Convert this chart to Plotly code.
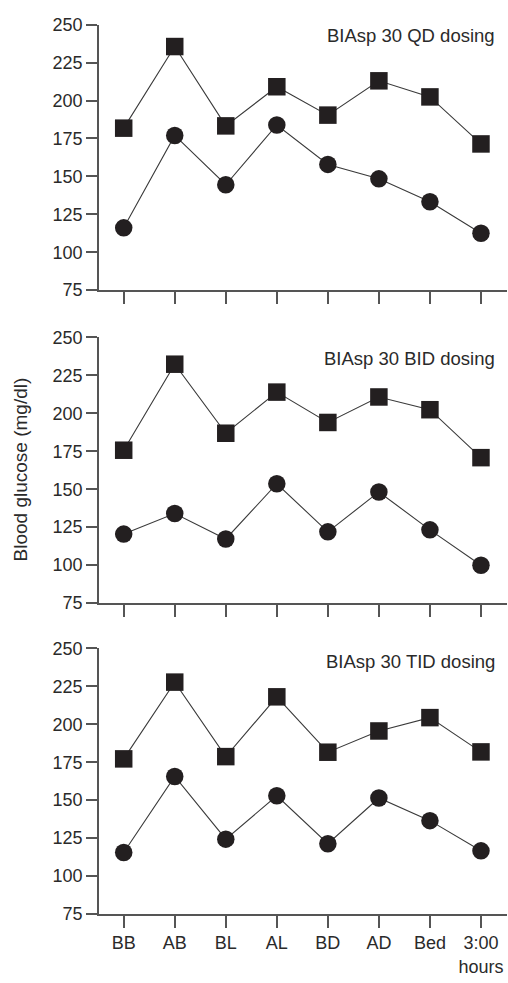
import plotly.graph_objects as go

categories = ["BB", "AB", "BL", "AL", "BD", "AD", "Bed", "3:00"]
tick_labels = ["BB", "AB", "BL", "AL", "BD", "AD", "Bed", "3:00<br>hours"]
panel_titles = ["BIAsp 30 QD dosing", "BIAsp 30 BID dosing", "BIAsp 30 TID dosing"]

qd_squares = [181.8, 235.6, 183.3, 209.1, 190.4, 213.0, 202.4, 171.4]
qd_circles = [116.1, 177.0, 144.5, 183.9, 157.9, 148.4, 133.3, 112.5]
bid_squares = [175.7, 232.4, 186.9, 214.0, 194.0, 210.8, 202.4, 170.8]
bid_circles = [120.4, 134.0, 117.2, 153.6, 121.9, 148.2, 123.2, 99.9]
tid_squares = [177.2, 227.8, 178.7, 218.1, 181.6, 195.6, 204.4, 181.8]
tid_circles = [115.5, 165.6, 124.3, 152.9, 121.3, 151.4, 136.5, 116.6]

y_ticks = [75, 100, 125, 150, 175, 200, 225, 250]

W, H = 508, 983
panels_px = [(15, 286), (334.3, 605.3), (651.7, 922.7)]  # (top, bottom) px
title_y_px = [26, 355.7, 665]
series = [(qd_squares, qd_circles), (bid_squares, bid_circles), (tid_squares, tid_circles)]

FONT = "Liberation Sans, Arial, Helvetica, sans-serif"
TXT = "#2a2a2a"
MK = "#231f20"
LN = "#3a3a3a"
AX = "#555555"
FS = 18

fig = go.Figure()
layout = dict(
    width=W, height=H, margin=dict(l=0, r=0, t=0, b=0),
    paper_bgcolor="white", plot_bgcolor="white", showlegend=False,
    font=dict(family=FONT, size=FS, color=TXT),
)
annotations = []
for i, ((sq, ci), (top, bot)) in enumerate(zip(series, panels_px)):
    n = "" if i == 0 else str(i + 1)
    xa, ya = "x" + n, "y" + n
    for vals, sym in ((sq, "square"), (ci, "circle")):
        fig.add_trace(go.Scatter(
            x=categories, y=vals, xaxis=xa, yaxis=ya, mode="lines+markers",
            line=dict(color=LN, width=1.1),
            marker=dict(symbol=sym, size=17.5, color=MK, line=dict(width=0)),
            cliponaxis=False,
        ))
    layout["xaxis" + n] = dict(
        domain=[99 / W, 507 / W], anchor=ya, type="category",
        range=[-0.484, 7.51], showgrid=False, zeroline=False,
        showline=True, linecolor=AX, linewidth=1.5,
        ticks="outside", ticklen=12, tickwidth=1.5, tickcolor=AX,
        tickvals=categories, ticktext=tick_labels,
        showticklabels=(i == 2), tickfont=dict(size=FS, color=TXT),
    )
    layout["yaxis" + n] = dict(
        domain=[1 - bot / H, 1 - top / H], anchor=xa,
        range=[75, 250], showgrid=False, zeroline=False,
        showline=True, linecolor=AX, linewidth=1.5,
        ticks="outside", ticklen=11, tickwidth=1.5, tickcolor=AX,
        tickvals=y_ticks, tickfont=dict(size=FS, color=TXT),
    )
    annotations.append(dict(
        text=panel_titles[i], xref="paper", yref="paper",
        x=497 / W, y=1 - title_y_px[i] / H, xanchor="right", yanchor="middle",
        showarrow=False, font=dict(size=18.5, color=TXT),
    ))

annotations.append(dict(
    text="Blood glucose (mg/dl)", xref="paper", yref="paper",
    x=20 / W, y=1 - 469 / H, xanchor="center", yanchor="middle",
    textangle=-90, showarrow=False, font=dict(size=19, color=TXT),
))
layout["annotations"] = annotations
fig.update_layout(**layout)
fig.write_html("out.html")
